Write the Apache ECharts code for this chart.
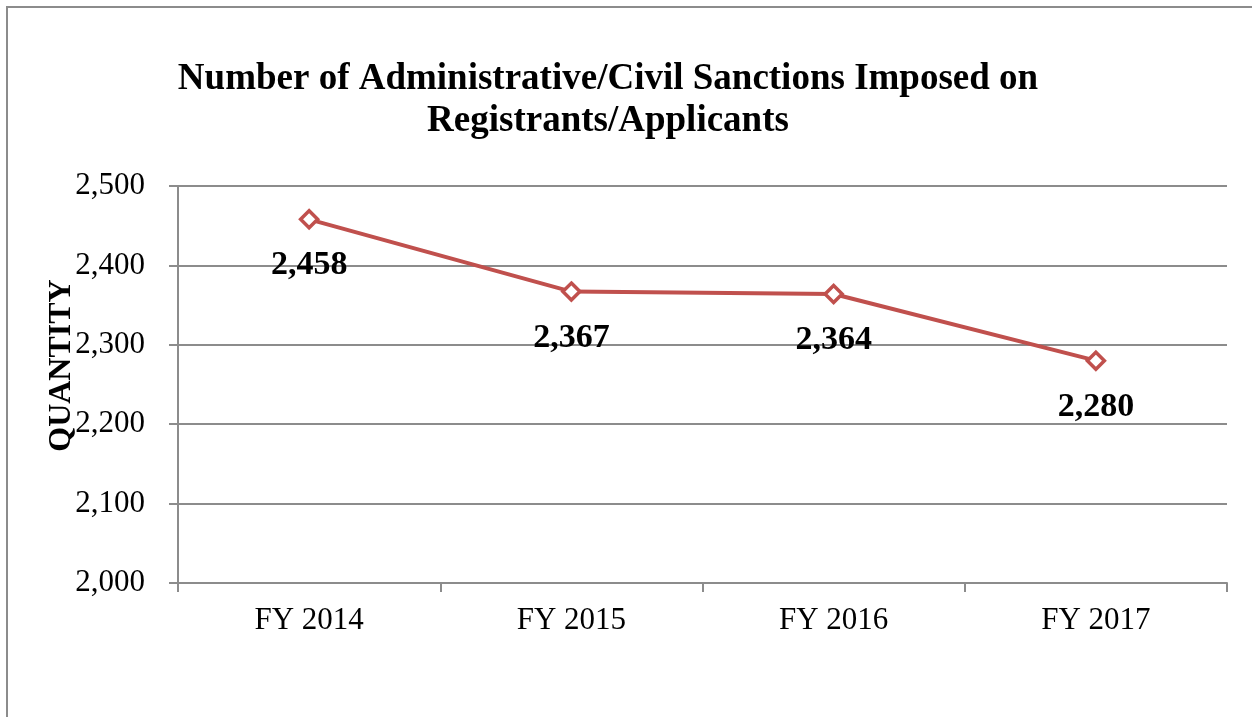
<!DOCTYPE html>
<html>
<head>
<meta charset="utf-8">
<script src="https://cdn.jsdelivr.net/npm/echarts@6/dist/echarts.min.js"></script>
<style>
html,body{margin:0;padding:0;background:#fff;}
#chart{width:1252px;height:717px;}
</style>
</head>
<body>
<div id="chart"></div>
<script>
const titleText = 'Number of Administrative/Civil Sanctions Imposed on\nRegistrants/Applicants';
const categories = ['FY 2014', 'FY 2015', 'FY 2016', 'FY 2017'];
const values = [2458, 2367, 2364, 2280];
const yAxisName = 'QUANTITY';

const serif = '"Liberation Serif", "Times New Roman", serif';
const chart = echarts.init(document.getElementById('chart'));
chart.setOption({
  backgroundColor: '#fff',
  animation: false,
  graphic: [{
    type: 'rect',
    shape: { x: 7, y: 7, width: 1300, height: 800 },
    style: { fill: 'none', stroke: '#8c8c8c', lineWidth: 2 },
    silent: true
  }],
  title: {
    text: titleText,
    left: 603,
    textAlign: 'center',
    top: 53,
    textStyle: { fontFamily: serif, fontWeight: 'bold', fontSize: 37, lineHeight: 42, color: '#000' }
  },
  grid: { left: 178, right: 25, top: 186, bottom: 134 },
  xAxis: {
    type: 'category',
    data: categories,
    boundaryGap: true,
    axisLine: { lineStyle: { color: '#8c8c8c', width: 2 } },
    axisTick: { show: true, length: 9, lineStyle: { color: '#8c8c8c', width: 2 } },
    axisLabel: { fontFamily: serif, fontSize: 31, color: '#000', margin: 22 }
  },
  yAxis: {
    type: 'value',
    min: 2000,
    max: 2500,
    interval: 100,
    name: yAxisName,
    nameLocation: 'middle',
    nameGap: 100,
    nameMoveOverlap: false,
    nameRotate: 90,
    nameTextStyle: { fontFamily: serif, fontWeight: 'bold', fontSize: 32, color: '#000', padding: [0, 0, 0, 38] },
    axisLine: { show: true, lineStyle: { color: '#8c8c8c', width: 2 } },
    axisTick: { show: true, length: 9, lineStyle: { color: '#8c8c8c', width: 2 } },
    splitLine: { lineStyle: { color: '#8c8c8c', width: 2 } },
    axisLabel: {
      fontFamily: serif, fontSize: 31, color: '#000', margin: 33,
      formatter: v => v.toLocaleString('en-US')
    }
  },
  series: [{
    type: 'line',
    data: values,
    lineStyle: { color: '#C0504D', width: 4 },
    itemStyle: { color: '#fff', borderColor: '#C0504D', borderWidth: 3.5 },
    symbol: 'diamond',
    symbolSize: 17,
    label: {
      show: true,
      position: 'bottom',
      distance: 19,
      fontFamily: serif,
      fontWeight: 'bold',
      fontSize: 34,
      color: '#000',
      formatter: p => p.value.toLocaleString('en-US')
    }
  }]
});
</script>
</body>
</html>
